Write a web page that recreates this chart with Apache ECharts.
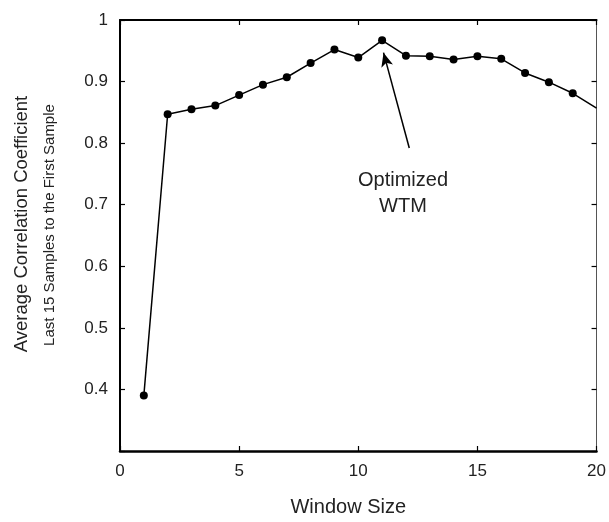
<!DOCTYPE html>
<html>
<head>
<meta charset="utf-8">
<script src="https://cdn.jsdelivr.net/npm/echarts@6/dist/echarts.min.js"></script>
<style>html,body{margin:0;padding:0;background:#fff}#c{width:609px;height:522px}</style>
</head>
<body>
<div id="c"></div>
<script>
const windowSizes = [1,2,3,4,5,6,7,8,9,10,11,12,13,14,15,16,17,18,19,20];
const correlation = [0.390,0.847,0.855,0.861,0.878,0.895,0.907,0.930,0.952,0.939,0.967,0.942,0.941,0.936,0.941,0.937,0.914,0.899,0.881,0.857];
const xTicks = [0,5,10,15,20];
const yTicks = [0.4,0.5,0.6,0.7,0.8,0.9,1];
const annotationText = ['Optimized','WTM'];
const arrowFrom = [12.14, 0.792];
const arrowTo = [11.06, 0.947];

const FONT = '"Liberation Sans", Arial, sans-serif';
const chart = echarts.init(document.getElementById('c'));
const data = windowSizes.map((x,i)=>{
  const p = {value:[x, correlation[i]]};
  if (x === 20) p.symbol = 'none';
  return p;
});

const axisLineStyle = {color:'#000', width:2.5};
const tickStyle = {color:'#000', width:1.2};
chart.setOption({
  animation:false,
  grid:{left:120, right:10, top:20, bottom:65, containLabel:false},
  xAxis:[{
    type:'value', min:0, max:20, interval:5,
    axisLine:{show:true, onZero:false, lineStyle:axisLineStyle},
    axisTick:{show:true, inside:true, length:5, lineStyle:tickStyle},
    axisLabel:{fontFamily:FONT, fontSize:17, color:'#222', margin:12,
      formatter:v=>xTicks.includes(v)?String(v):''},
    splitLine:{show:false},
    name:'Window Size', nameLocation:'middle', nameGap:46,
    nameTextStyle:{fontFamily:FONT, fontSize:20, color:'#222', padding:[0,20,0,0]}
  },{
    type:'value', position:'top', min:0, max:20, interval:5,
    axisLine:{show:true, onZero:false, lineStyle:{color:'#000', width:2}},
    axisTick:{show:true, inside:true, length:5, lineStyle:tickStyle},
    axisLabel:{show:false}, splitLine:{show:false}
  }],
  yAxis:[{
    type:'value', min:0.3, max:1, interval:0.1,
    axisLine:{show:true, onZero:false, lineStyle:{color:'#000', width:2}},
    axisTick:{show:true, inside:true, length:5, lineStyle:tickStyle},
    axisLabel:{fontFamily:FONT, fontSize:17, color:'#222', margin:12,
      formatter:v=>{const r=Math.round(v*10)/10; return yTicks.includes(r)?String(r):'';}},
    splitLine:{show:false}
  },{
    type:'value', position:'right', min:0.3, max:1, interval:0.1,
    axisLine:{show:true, onZero:false, lineStyle:{color:'#555', width:1}},
    axisTick:{show:true, inside:true, length:5, lineStyle:tickStyle},
    axisLabel:{show:false}, splitLine:{show:false}
  }],
  graphic:[
    {type:'text', rotation:Math.PI/2, x:22, y:224,
      style:{text:'Average Correlation Coefficient', font:'18.5px '+FONT, fill:'#222', align:'center', verticalAlign:'middle'}},
    {type:'text', rotation:Math.PI/2, x:50, y:225,
      style:{text:'Last 15 Samples to the First Sample', font:'15px '+FONT, fill:'#222', align:'center', verticalAlign:'middle'}},
    {type:'text', x:403, y:180,
      style:{text:annotationText[0], font:'20px '+FONT, fill:'#222', align:'center', verticalAlign:'middle'}},
    {type:'text', x:403, y:206,
      style:{text:annotationText[1], font:'20px '+FONT, fill:'#222', align:'center', verticalAlign:'middle'}}
  ],
  series:[{
    type:'line', data:data, clip:true,
    symbol:'circle', symbolSize:8,
    itemStyle:{color:'#000'},
    lineStyle:{color:'#000', width:1.5},
    markLine:{
      silent:true, symbol:['none','arrow'], symbolSize:[9,14],
      label:{show:false},
      lineStyle:{color:'#000', width:1.5, type:'solid'},
      data:[[{coord:arrowFrom},{coord:arrowTo}]]
    }
  }]
});
</script>
</body>
</html>
